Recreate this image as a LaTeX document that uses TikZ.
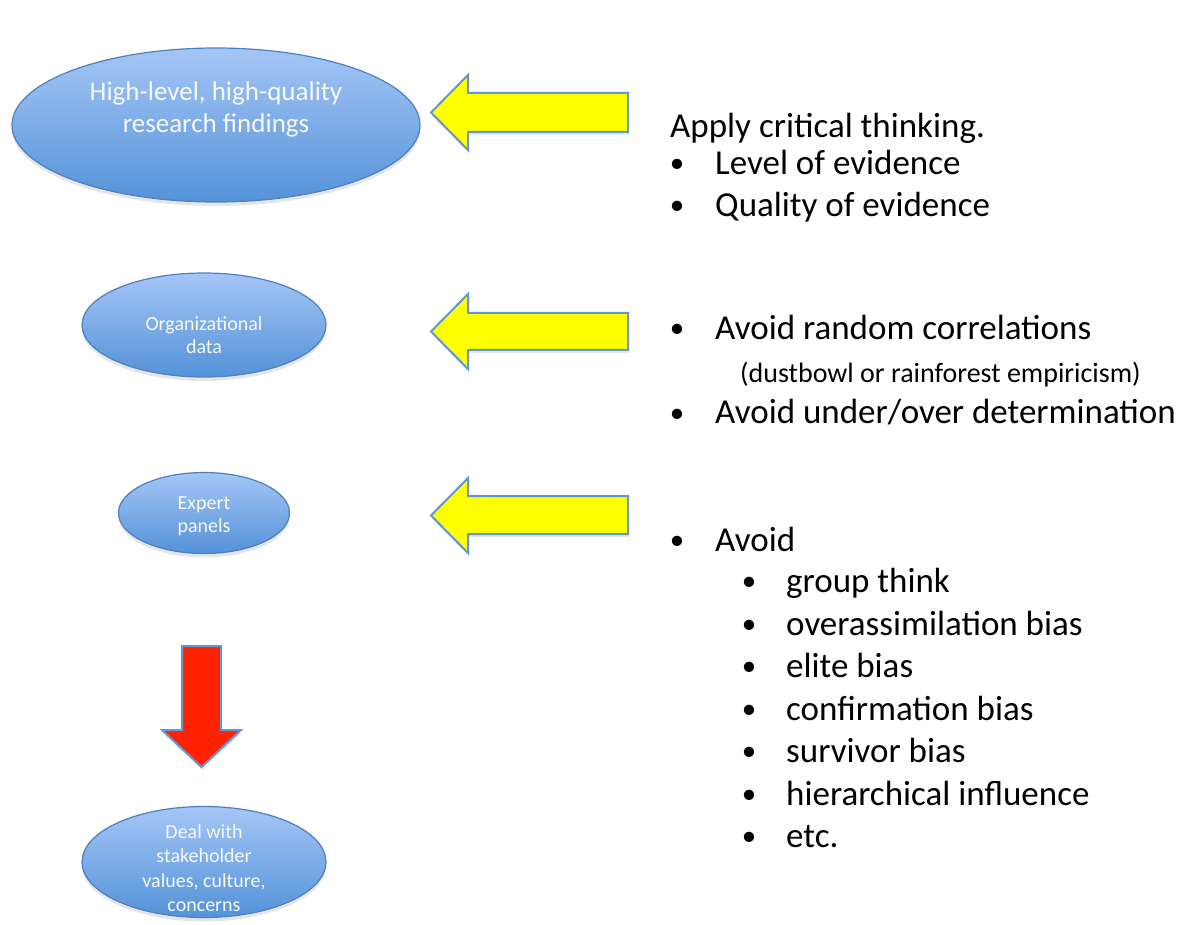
\documentclass[tikz,border=0pt]{standalone}
\usepackage{fontspec}
\setmainfont{Carlito}
\usetikzlibrary{shapes.geometric,shadows}
\definecolor{ellTop}{RGB}{165,198,246}
\definecolor{ellBot}{RGB}{84,146,216}
\definecolor{ellLine}{RGB}{78,128,190}
\definecolor{arrLine}{RGB}{100,150,210}
\definecolor{arrYel}{RGB}{255,255,0}
\definecolor{arrRed}{RGB}{255,34,0}
\definecolor{ellText}{RGB}{245,248,252}
\tikzset{
  oval/.style={ellipse, draw=ellLine, line width=1.2pt, top color=ellTop, bottom color=ellBot, inner sep=0pt,
    drop shadow={opacity=0.2, shadow xshift=0pt, shadow yshift=-4pt}},
  ovaltext/.style={text=ellText, align=center, inner sep=0pt},
  yarrow/.style={draw=arrLine, line width=2pt, fill=arrYel, line join=miter,
    drop shadow={opacity=0.2, shadow xshift=1pt, shadow yshift=-3pt}},
  rarrow/.style={draw=arrLine, line width=2pt, fill=arrRed, line join=miter,
    drop shadow={opacity=0.2, shadow xshift=1pt, shadow yshift=-3pt}},
  big/.style={anchor=base west, inner sep=0pt, font=\fontsize{35}{42}\selectfont},
  small/.style={anchor=base west, inner sep=0pt, font=\fontsize{28}{34}\selectfont},
  bul/.style={anchor=base, inner sep=0pt, font=\fontsize{29}{34}\selectfont, yshift=2pt},
}
\begin{document}
\begin{tikzpicture}[x=1pt,y=-1pt]
\useasboundingbox (0,0) rectangle (1200,925);
% ellipses
\node[oval, minimum width=408, minimum height=154] (e1) at (216,125) {};
\node[ovaltext, font=\fontsize{27}{32}\selectfont] (t1) at (216,109) {High-level, high-quality\\research findings};
\node[oval, minimum width=244, minimum height=104] (e2) at (204,325) {};
\node[ovaltext, font=\fontsize{20}{23}\selectfont] (t2) at (204,335) {Organizational\\data};
\node[oval, minimum width=171, minimum height=81] (e3) at (204,513) {};
\node[ovaltext, font=\fontsize{20}{23}\selectfont] (t3) at (204,516) {Expert\\panels};
\node[oval, minimum width=244, minimum height=111] (e4) at (204,862) {};
\node[ovaltext, font=\fontsize{20}{24.5}\selectfont] (t4) at (204,868) {Deal with\\stakeholder\\values, culture,\\concerns};
% yellow arrows
\draw[yarrow] (628,93) -- (468,93) -- (468,75) -- (431,112.5) -- (468,150) -- (468,132) -- (628,132) -- cycle;
\draw[yarrow] (628,313) -- (468,313) -- (468,294) -- (431,331.5) -- (468,369) -- (468,350) -- (628,350) -- cycle;
\draw[yarrow] (628,496) -- (468,496) -- (468,478) -- (431,515.5) -- (468,553) -- (468,534) -- (628,534) -- cycle;
% red arrow
\draw[rarrow] (182,646) -- (221,646) -- (221,730) -- (241,730) -- (201.5,767) -- (162,730) -- (182,730) -- cycle;
% text block 1
\node[big] (a0) at (670,138) {Apply critical thinking.};
\node[bul] (b1) at (677,175) {•};
\node[big] (a1) at (715,175) {Level of evidence};
\node[bul] (b2) at (677,217) {•};
\node[big] (a2) at (715,217) {Quality of evidence};
% text block 2
\node[bul] (b3) at (677,340) {•};
\node[big] (c1) at (715,340) {Avoid random correlations};
\node[small] (c2) at (740,382) {(dustbowl or rainforest empiricism)};
\node[bul] (b4) at (677,424) {•};
\node[big] (c3) at (715,424) {Avoid under/over determination};
% text block 3
\node[bul] (b5) at (677,551) {•};
\node[big] (d0) at (715,551) {Avoid};
\foreach \y/\t [count=\i] in {592/group think, 635/overassimilation bias, 677/elite bias, 720/confirmation bias, 762/survivor bias, 805/hierarchical influence, 847/etc.}{
  \node[bul] (sb\i) at (749,\y) {•};
  \node[big] (st\i) at (786,\y) {\t};
}
\end{tikzpicture}
\end{document}
